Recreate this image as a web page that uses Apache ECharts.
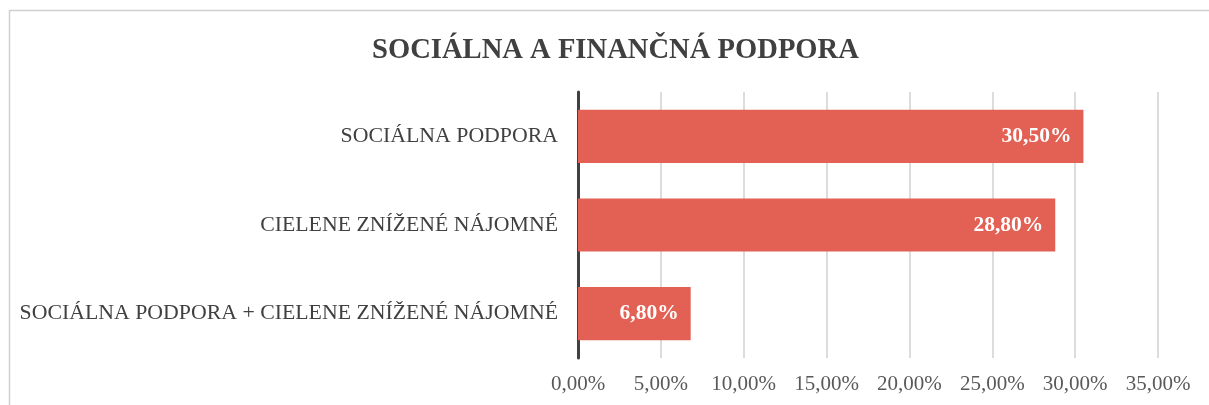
<!DOCTYPE html>
<html>
<head>
<meta charset="utf-8">
<script src="https://cdn.jsdelivr.net/npm/echarts@6/dist/echarts.min.js"></script>
<style>
  html, body { margin: 0; padding: 0; background: #fff; }
  #chart { width: 1209px; height: 405px; }
</style>
</head>
<body>
<div id="chart"></div>
<script>
// categories bottom -> top (category axis on y starts at the bottom)
const categories = [
  "SOCIÁLNA PODPORA + CIELENE ZNÍŽENÉ NÁJOMNÉ",
  "CIELENE ZNÍŽENÉ NÁJOMNÉ",
  "SOCIÁLNA PODPORA"
];
const values = [6.8, 28.8, 30.5];
const xTicks = [0, 5, 10, 15, 20, 25, 30, 35];

const fontFam = "'Liberation Serif', 'Times New Roman', serif";
const fmt = v => v.toFixed(2).replace(".", ",") + "%";

let myChart = echarts.init(document.getElementById("chart"));
myChart.setOption({
  animation: false,
  title: {
    text: "SOCIÁLNA A FINANČNÁ PODPORA",
    left: 367,
    top: 31,
    textStyle: {
      fontFamily: fontFam,
      fontSize: 28.6,
      fontWeight: "bold",
      color: "#404040"
    }
  },
  graphic: [{
    type: "rect",
    shape: { x: 9.5, y: 10.5, width: 1300, height: 500 },
    style: { fill: "none", stroke: "#d0d0d0", lineWidth: 1.5 },
    silent: true
  }],
  grid: { left: 578, right: 51, top: 92, bottom: 47 },
  xAxis: {
    type: "value",
    min: xTicks[0],
    max: xTicks[xTicks.length - 1],
    interval: 5,
    axisLine: { show: false },
    axisTick: { show: false },
    splitLine: { lineStyle: { color: "#d0d0d0", width: 1.5 } },
    axisLabel: {
      formatter: fmt,
      fontFamily: fontFam,
      fontSize: 21,
      color: "#595959",
      margin: 16
    }
  },
  yAxis: {
    type: "category",
    data: categories,
    axisLine: { show: true, lineStyle: { color: "#404040", width: 3 } },
    axisTick: { show: false },
    axisLabel: {
      fontFamily: fontFam,
      fontSize: 21.8,
      color: "#404040",
      margin: 20
    }
  },
  series: [{
    type: "bar",
    data: values,
    barWidth: "60%",
    itemStyle: { color: "#E36154" },
    label: {
      show: true,
      position: "insideRight",
      distance: 12,
      formatter: p => fmt(p.value),
      fontFamily: fontFam,
      fontSize: 21.5,
      fontWeight: "bold",
      color: "#ffffff"
    }
  }]
});
</script>
</body>
</html>
